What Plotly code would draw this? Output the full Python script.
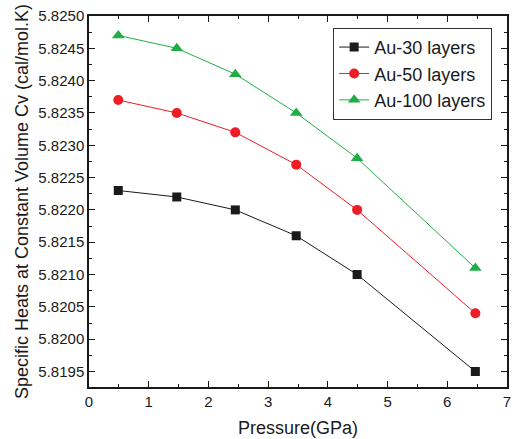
import plotly.graph_objects as go

# Pressure (GPa) and specific heat Cv (cal/mol.K) for Au films of different thickness
pressure = [0.49, 1.47, 2.45, 3.47, 4.49, 6.47]
cv_30 = [5.8223, 5.8222, 5.8220, 5.8216, 5.8210, 5.8195]
cv_50 = [5.8237, 5.8235, 5.8232, 5.8227, 5.8220, 5.8204]
cv_100 = [5.8247, 5.8245, 5.8241, 5.8235, 5.8228, 5.8211]

series = [
    ("Au-30 layers", cv_30, "#1a1a1a", "square", 9),
    ("Au-50 layers", cv_50, "#ee1c25", "circle", 10),
    ("Au-100 layers", cv_100, "#1fae45", "triangle-up", 11),
]

FONT = "Liberation Sans, Arial, sans-serif"

fig = go.Figure()
for name, vals, color, symbol, size in series:
    fig.add_trace(go.Scatter(
        x=pressure, y=vals, name=name, mode="lines+markers",
        line=dict(color=color, width=1),
        marker=dict(symbol=symbol, size=size, color=color,
                    line=dict(width=0)),
    ))

axis_common = dict(
    showline=True, linecolor="#1a1a1a", linewidth=1.5,
    mirror="ticks", ticks="inside", ticklen=6, tickwidth=1.2,
    tickcolor="#1a1a1a", showgrid=False, zeroline=False,
    tickfont=dict(family=FONT, size=15, color="#1a1a1a"),
)

fig.update_xaxes(
    range=[0, 7], dtick=1, tick0=0,
    minor=dict(ticks="inside", ticklen=3, dtick=0.5, tick0=0,
               tickcolor="#1a1a1a", showgrid=False),
    title=dict(text="Pressure(GPa)", font=dict(family=FONT, size=18, color="#1a1a1a"),
               standoff=13),
    **axis_common,
)
fig.update_yaxes(
    range=[5.81926, 5.8250], dtick=0.0005, tick0=5.8195, tickformat=".4f",
    minor=dict(ticks="inside", ticklen=3, dtick=0.00025, tick0=5.8195,
               tickcolor="#1a1a1a", showgrid=False),
    title=dict(text="Specific Heats at Constant Volume Cv (cal/mol.K)",
               font=dict(family=FONT, size=18, color="#1a1a1a"), standoff=5),
    **axis_common,
)

fig.update_layout(
    width=514, height=439,
    margin=dict(l=89, r=3, t=16, b=52),
    paper_bgcolor="white", plot_bgcolor="white",
    showlegend=True,
    legend=dict(
        x=0.9645, y=0.968, xanchor="right", yanchor="top",
        bgcolor="white", bordercolor="#333333", borderwidth=1,
        font=dict(family=FONT, size=18, color="#1a1a1a"),
        tracegroupgap=0, itemwidth=30,
    ),
)

fig.write_html("out.html")
